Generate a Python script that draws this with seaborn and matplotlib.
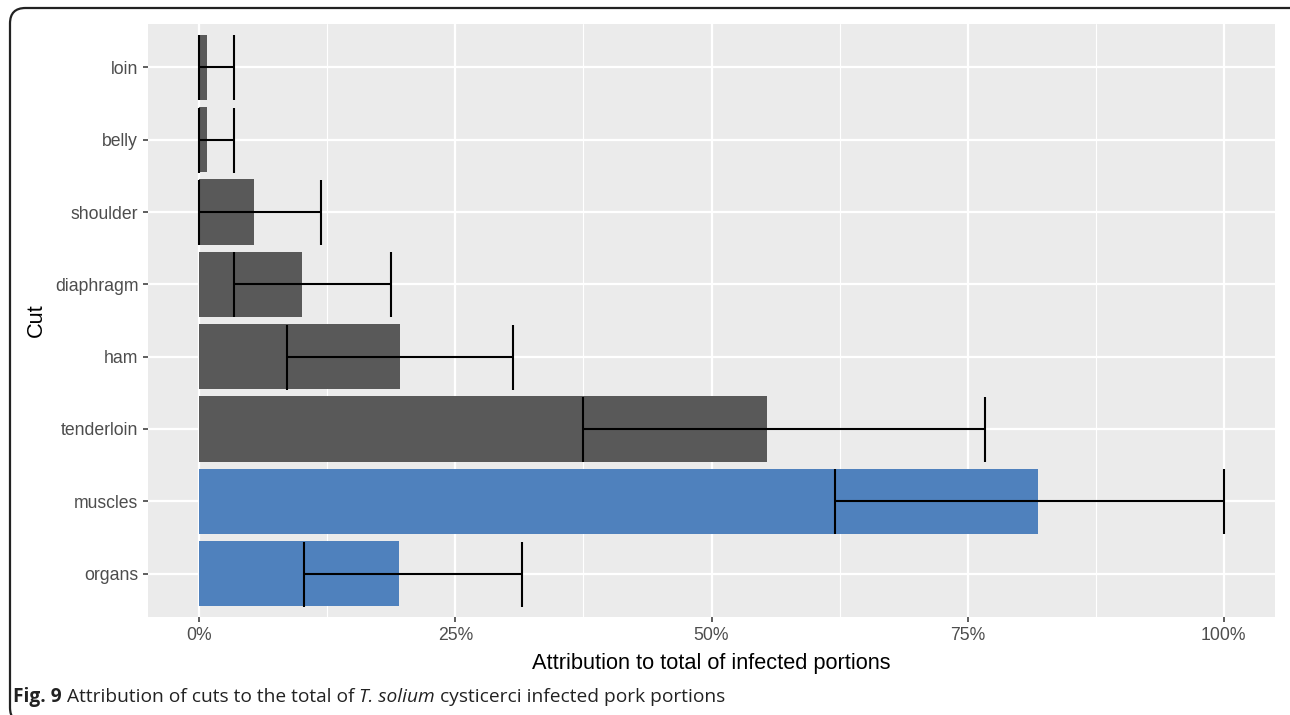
import numpy as np
import pandas as pd
import matplotlib
matplotlib.use("Agg")
import matplotlib.pyplot as plt
from matplotlib.patches import FancyBboxPatch
import seaborn as sns

# ---- data (percent) ----
cuts = ["loin", "belly", "shoulder", "diaphragm", "ham", "tenderloin", "muscles", "organs"]
group = ["cut", "cut", "cut", "cut", "cut", "cut", "whole", "whole"]
attribution = [0.8, 0.8, 5.3, 10.0, 19.6, 55.4, 81.9, 19.5]
lower = [0.0, 0.0, 0.0, 3.4, 8.6, 37.5, 62.1, 10.2]
upper = [3.4, 3.4, 11.9, 18.7, 30.6, 76.7, 100.0, 31.5]
x_ticks = [0, 25, 50, 75, 100]
x_tick_labels = ["0%", "25%", "50%", "75%", "100%"]

df = pd.DataFrame({"cut": cuts, "group": group, "value": attribution,
                   "lo": lower, "hi": upper})

sns.set_theme(style="white")
plt.rcParams["font.family"] = ["Liberation Sans", "DejaVu Sans"]

fig = plt.figure(figsize=(12.9, 7.15), dpi=100)
ax = fig.add_axes([148 / 1290, 1 - 617 / 715, (1275 - 148) / 1290, (617 - 24) / 715])

ax.set_facecolor("#EBEBEB")
# grid
for g in [12.5, 37.5, 62.5, 87.5]:
    ax.axvline(g, color="white", lw=0.8, zorder=0)
for g in x_ticks:
    ax.axvline(g, color="white", lw=1.6, zorder=0)
for i in range(len(cuts)):
    ax.axhline(i, color="white", lw=1.6, zorder=0)

sns.barplot(data=df, x="value", y="cut", hue="group", orient="h",
            palette={"cut": "#595959", "whole": "#4F81BD"},
            width=0.9, dodge=False, legend=False, errorbar=None,
            saturation=1, linewidth=0, ax=ax, zorder=2)

pos = np.arange(len(cuts))
vals = np.array(attribution)
ax.errorbar(vals, pos,
            xerr=[vals - np.array(lower), np.array(upper) - vals],
            fmt="none", ecolor="black", elinewidth=1.5, capsize=23.4,
            capthick=1.5, zorder=3)

ax.set_xlim(-5, 105)
ax.set_ylim(len(cuts) - 1 + 0.6, -0.6)
ax.set_xticks(x_ticks)
ax.set_xticklabels(x_tick_labels)
ax.set_yticks(pos)
ax.set_yticklabels(cuts)
for s in ax.spines.values():
    s.set_visible(False)
ax.tick_params(axis="both", which="both", length=3.5, width=1.1, color="#333333",
               labelcolor="#4D4D4D", labelsize=12.7, pad=3.5,
               bottom=True, left=True)
ax.set_xlabel("Attribution to total of infected portions", fontsize=15.7,
              color="black", labelpad=7)
ax.set_ylabel("Cut", fontsize=15.7, color="black", labelpad=6)

# outer rounded frame (cropped at right and bottom, as in the reference)
frame = FancyBboxPatch((10 / 1290, -8 / 715), 1.2, 1 - 0 / 715,
                       boxstyle="round,pad=0,rounding_size=0.012",
                       transform=fig.transFigure, fill=False,
                       edgecolor="#222222", lw=1.6, clip_on=False,
                       mutation_aspect=1290 / 715)
fig.patches.append(frame)

# caption
fig.canvas.draw()
renderer = fig.canvas.get_renderer()
cap_font = ["Open Sans", "DejaVu Sans"]
x = 13 / 1290
y = 1 - 697 / 715
pieces = [("Fig. 9", "bold", "normal"),
          (" Attribution of cuts to the total of ", "normal", "normal"),
          ("T. solium", "normal", "italic"),
          (" cysticerci infected pork portions", "normal", "normal")]
for txt, wt, st in pieces:
    t = fig.text(x, y, txt, fontsize=13.8, fontweight=wt, fontstyle=st,
                 family=cap_font, color="#222222", va="center", ha="left")
    bb = t.get_window_extent(renderer=renderer)
    x = bb.x1 / fig.bbox.width

fig.savefig("out.png", dpi=100)
